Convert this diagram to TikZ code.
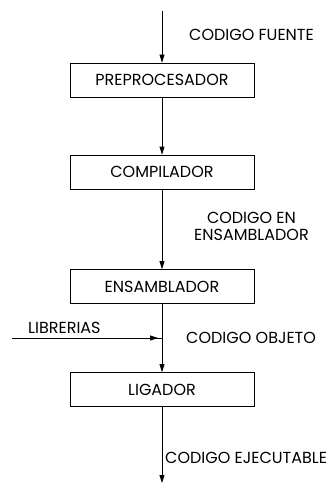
\documentclass[tikz,border=0pt]{standalone}
\usepackage{fontspec}
\setmainfont{Poppins}
\usetikzlibrary{arrows.meta,calc}
\begin{document}
\begin{tikzpicture}[x=1pt,y=1pt,
  stage/.style={draw,line width=0.8pt,minimum width=184pt,minimum height=34pt,inner sep=0pt,font=\fontsize{16}{17}\selectfont},
  lbl/.style={font=\fontsize{16}{17}\selectfont,inner sep=0pt,anchor=west,align=center},
  flow/.style={line width=0.8pt,-{Triangle[width=5pt,length=8pt]}}]
\useasboundingbox (0,0) rectangle (331,-484);
\node[stage] (pre) at (162,-80) {PREPROCESADOR};
\node[stage] (comp) at (162,-172) {COMPILADOR};
\node[stage] (ens) at (162,-286.5) {ENSAMBLADOR};
\node[stage] (lig) at (162,-389.5) {LIGADOR};
\coordinate (top) at (162,-11);
\coordinate (bot) at (162,-483);
\coordinate (j) at (162,-338);
\coordinate (lib) at (12,-338);
\draw[flow] (top) -- (pre.north);
\draw[flow] (pre.south) -- (comp.north);
\draw[flow] (comp.south) -- (ens.north);
\draw[flow] (ens.south) -- (lig.north);
\draw[flow] (lig.south) -- (bot);
\draw[line width=0.8pt] (lib) -- (j);
\draw[flow] (lib) -- ($(j)+(-4,0)$);
\node[lbl] (tf) at (189,-35) {CODIGO FUENTE};
\node[lbl] (te) at (194,-226) {CODIGO EN\\ENSAMBLADOR};
\node[lbl] (tl) at (28,-328) {LIBRERIAS};
\node[lbl] (to) at (186,-338) {CODIGO OBJETO};
\node[lbl] (tx) at (165,-458) {CODIGO EJECUTABLE};
\end{tikzpicture}
\end{document}
